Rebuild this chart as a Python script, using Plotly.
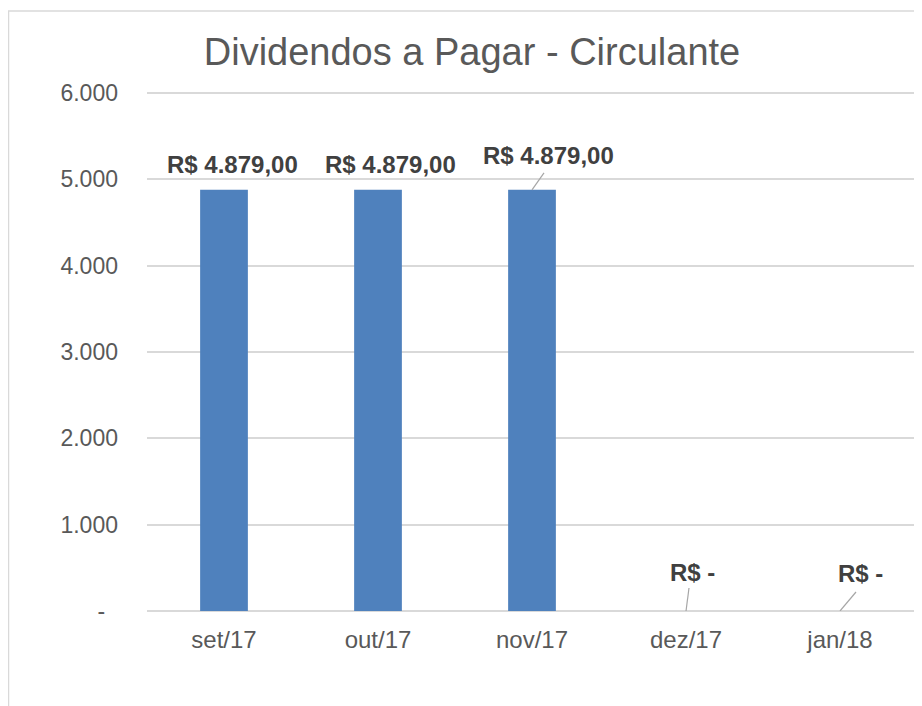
import plotly.graph_objects as go

categories = ["set/17", "out/17", "nov/17", "dez/17", "jan/18"]
values = [4879, 4879, 4879, 0, 0]
tick_values = [0, 1000, 2000, 3000, 4000, 5000, 6000]
tick_labels = ["-\u00a0\u00a0", "1.000", "2.000", "3.000", "4.000", "5.000", "6.000"]
title_text = "Dividendos a Pagar - Circulante"

# label offsets in pixels (style): (dx, dy up)
label_offsets = [(8, 25), (12, 25), (16, 34), (6, 39), (20, 38)]
# leader lines in pixels (style), None = no leader
leader_offsets = [None, None, (12, 17), (3, 23), (16, 19)]

FONT = "Liberation Sans, Arial, sans-serif"
GRAY = "#595959"

W, H = 914, 698
L, R, T, B = 139, 5, 84, 95
PW = W - L - R
PH = H - T - B


def fmt(v):
    if v == 0:
        return "R$ -"
    s = f"{v:,.2f}"
    s = s.replace(",", "X").replace(".", ",").replace("X", ".")
    return "R$ " + s


fig = go.Figure()
fig.add_trace(go.Bar(
    x=categories, y=values,
    marker=dict(color="#4F81BD", line=dict(width=0)),
    width=0.31,
    hoverinfo="skip",
))

annotations = []
shapes = []
for i, (c, v) in enumerate(zip(categories, values)):
    dx, dy = label_offsets[i]
    annotations.append(dict(
        x=c, y=v, xref="x", yref="y", text="<b>" + fmt(v) + "</b>",
        showarrow=False, xshift=dx, yshift=dy,
        font=dict(family=FONT, size=24, color="#404040"),
        xanchor="center", yanchor="middle",
    ))
    lo = leader_offsets[i]
    if lo is not None:
        shapes.append(dict(
            type="line", xref="x", yref="y",
            xsizemode="pixel", ysizemode="pixel",
            xanchor=i, yanchor=v,
            x0=0, x1=lo[0], y0=0, y1=lo[1],
            line=dict(color="#A6A6A6", width=1.2),
        ))

# chart border
shapes.append(dict(
    type="rect", xref="paper", yref="paper",
    x0=(0.5 - L) / PW, x1=(W + 10 - L) / PW,
    y0=-(B + 20) / PH, y1=(PH + T - 3) / PH,
    line=dict(color="#D9D9D9", width=1.5),
    fillcolor="rgba(0,0,0,0)", layer="below",
))

fig.update_layout(
    width=W, height=H,
    margin=dict(l=L, r=R, t=T, b=B),
    paper_bgcolor="white", plot_bgcolor="white",
    showlegend=False,
    title=dict(
        text=title_text, x=464 / W, xanchor="center",
        y=1 - 44 / H, yanchor="middle",
        font=dict(family=FONT, size=38, color=GRAY),
    ),
    xaxis=dict(
        type="category", showgrid=False, zeroline=False, showline=False,
        tickfont=dict(family=FONT, size=24, color=GRAY),
        ticks="", ticklabelstandoff=12,
    ),
    yaxis=dict(
        range=[0, 6012], tickvals=tick_values, ticktext=tick_labels,
        showgrid=True, gridcolor="#D9D9D9", gridwidth=1.5,
        zeroline=True, zerolinecolor="#D9D9D9", zerolinewidth=1.5,
        showline=False, ticks="",
        tickfont=dict(family=FONT, size=23, color=GRAY),
        ticklabelstandoff=28,
    ),
    bargap=0.69,
    annotations=annotations,
    shapes=shapes,
)

fig.write_html("out.html")
